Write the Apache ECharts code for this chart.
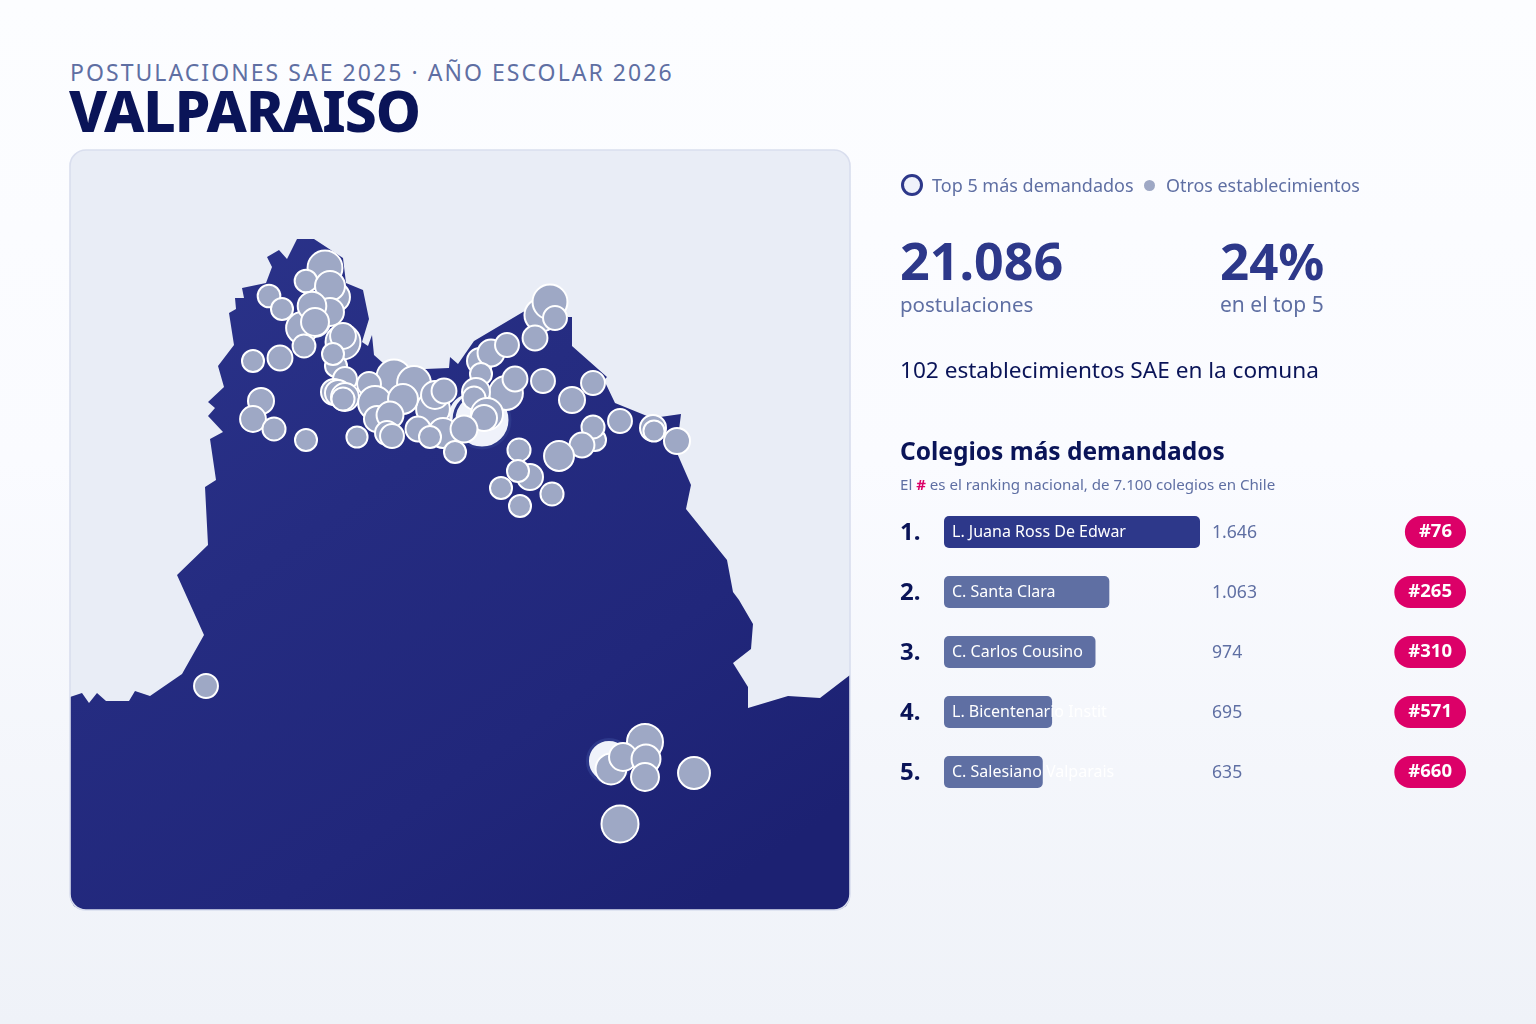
<!DOCTYPE html>
<html lang="es">
<head>
<meta charset="utf-8">
<title>Valparaiso</title>
<style>
html,body{margin:0;padding:0;width:1536px;height:1024px;overflow:hidden;background:linear-gradient(180deg,#fcfdff 0%,#fafbff 45%,#eff2f8 100%);font-family:"Noto Sans",sans-serif}
#chart{position:absolute;left:0;top:0;width:1536px;height:1024px}
#kicker{position:absolute;left:70px;top:56.5px;font-size:23px;line-height:30px;letter-spacing:2.05px;color:#5f6fa3;white-space:nowrap}
#place{position:absolute;left:69px;top:72px;font-size:57px;line-height:76px;font-weight:800;letter-spacing:-1px;color:#0a1458;white-space:nowrap}
</style>
<script src="https://cdn.jsdelivr.net/npm/echarts@6/dist/echarts.min.js"></script>
</head>
<body>
<div id="kicker">POSTULACIONES SAE 2025 · AÑO ESCOLAR 2026</div>
<div id="place">VALPARAISO</div>
<div id="chart"></div>
<script>
// ---- data ----
const schoolNames = ['L. Juana Ross De Edwar', 'C. Santa Clara', 'C. Carlos Cousino', 'L. Bicentenario Instit', 'C. Salesiano Valparais'];
const schoolApplications = [1646, 1063, 974, 695, 635];
const rankLabels = ['1.', '2.', '3.', '4.', '5.'];
const applicationLabels = ['1.646', '1.063', '974', '695', '635'];
const nationalRanks = ['#76', '#265', '#310', '#571', '#660'];

// commune outline in map units
const communeOutline = [
  [297,239],[314,239],[343,258],[346,283],[363,290],[369,319],[362,342],[368,346],[372,335],[374,355],[383,363],
  [395,370],[425,369],[449,368],[450,357],[458,364],[474,341],[523,312],[545,300],[568,317],[572,317],[572,346],
  [607,377],[604,380],[615,403],[647,416],[660,417],[681,414],[679,430],[677,453],[691,485],[686,509],[727,560],
  [733,592],[739,600],[753,624],[751,649],[733,663],[748,687],[748,708],[788,696],[820,698],[850,675],
  [850,895],[849,901],[846,906],[841,909],[835,910],[85,910],[79,909],[74,906],[71,901],[70,895],
  [70,697],[82,693],[89,703],[97,693],[106,701],[129,701],[135,691],[150,696],[182,674],[204,635],[177,575],
  [208,545],[205,487],[216,480],[210,439],[223,432],[208,416],[215,408],[208,402],[224,387],[218,366],[234,345],
  [229,313],[236,309],[235,298],[244,298],[242,288],[266,283],[272,267],[267,257],[279,250],[287,259]
];

// [map x, map y, applications]
const topSchools = [
  [470,415,1063],[482,420,1646],[609,761,974],[388,396,695],[315,322,635]
];
const otherSchools = [
  [325,268,640],[335,297,470],[306,281,270],[330,286,470],[269,296,270],[282,309,255],[330,312,410],[302,328,530],
  [312,306,430],[315,322,410],[343,342,640],[343,336,350],[304,346,275],[336,366,255],[333,354,255],[345,379,300],[253,361,255],
  [280,358,325],[261,401,355],[253,419,350],[274,429,280],[306,440,255],[357,437,235],[394,377,640],[414,383,600],
  [334,392,355],[338,393,355],[345,397,410],[343,399,280],[369,384,300],[375,403,600],[377,419,355],[433,409,600],
  [403,399,470],[390,415,380],[387,433,300],[392,436,300],[443,433,470],[418,429,325],[430,437,255],[435,395,410],
  [444,391,325],[455,452,255],[541,315,575],[550,302,640],[555,318,300],[535,338,325],[480,361,355],[491,353,380],[507,345,300],
  [481,374,255],[506,393,600],[476,392,410],[474,398,280],[487,414,540],[484,418,355],[515,379,325],[543,381,300],
  [464,429,380],[593,383,300],[572,400,355],[595,440,255],[593,427,280],[582,445,325],[559,456,470],[620,421,300],
  [653,428,355],[654,431,235],[677,441,355],[519,450,280],[530,477,355],[518,471,255],[501,488,255],[552,494,280],
  [520,506,255],[206,686,300],[645,742,680],[611,769,500],[623,757,410],[646,759,440],[645,777,410],[694,773,535],
  [620,824,720]
];

const textBlue = '#5f6fa3', navy = '#0a1458', strong = '#2d388a', pink = '#dc0068';
const FONT = '"Noto Sans", sans-serif';
const bubbleSize = d => 2 * 0.69 * Math.sqrt(d[2]);

const txt = (text, x, y, size, weight, fill) => ({
  type: 'text', z: 20,
  style: { text, x, y, fill, font: `${weight} ${size}px ${FONT}`, verticalAlign: 'middle', align: 'left' }
});

const chart = echarts.init(document.getElementById('chart'), null, { width: 1536, height: 1024, renderer: 'canvas' });

chart.setOption({
  backgroundColor: 'transparent',
  animation: false,
  legend: [
    { data: ['Top 5 más demandados'], left: 901, top: 174, itemWidth: 19, itemHeight: 19, itemGap: 0, padding: 0,
      itemStyle: { borderWidth: 3, borderColor: strong, color: '#eff2fa' }, formatter: () => '', selectedMode: false },
    { data: ['Otros establecimientos'], left: 1144, top: 176, itemWidth: 11, itemHeight: 19, itemGap: 0, padding: 0,
      itemStyle: { borderWidth: 0 }, formatter: () => '', selectedMode: false }
  ],
  grid: [
    { left: 70, top: 150, width: 780, height: 760 },
    { left: 944, top: 502, width: 256, height: 300 },
    { left: 944, top: 503, width: 256, height: 300 }
  ],
  xAxis: [
    { type: 'value', gridIndex: 0, min: 70, max: 850, show: false },
    { type: 'value', gridIndex: 1, min: 0, max: 1646, show: false },
    { type: 'value', gridIndex: 2, min: 0, max: 1646, show: false }
  ],
  yAxis: [
    { type: 'value', gridIndex: 0, min: 150, max: 910, inverse: true, show: false },
    { type: 'category', gridIndex: 1, inverse: true, data: schoolNames, show: false },
    { type: 'category', gridIndex: 2, inverse: true, data: rankLabels,
      axisLine: { show: false }, axisTick: { show: false },
      axisLabel: { interval: 0, align: 'left', margin: 44, fontFamily: FONT, fontSize: 24, fontWeight: 700, color: navy } },
    { type: 'category', gridIndex: 2, inverse: true, position: 'right', data: applicationLabels,
      axisLine: { show: false }, axisTick: { show: false },
      axisLabel: { interval: 0, align: 'left', margin: 12, fontFamily: FONT, fontSize: 17.6, color: textBlue } },
    { type: 'category', gridIndex: 1, inverse: true, position: 'right', data: nationalRanks,
      axisLine: { show: false }, axisTick: { show: false },
      axisLabel: { interval: 0, align: 'right', margin: 266, fontFamily: FONT, fontSize: 18.5, fontWeight: 700, color: '#fff',
        backgroundColor: pink, borderRadius: 16, padding: [8, 14, 4, 14], lineHeight: 20 } }
  ],
  series: [
    {
      type: 'custom', name: 'Comuna', xAxisIndex: 0, yAxisIndex: 0, coordinateSystem: 'cartesian2d', silent: true, z: 1, clip: false,
      data: communeOutline,
      renderItem: (params, api) => {
        if (params.dataIndexInside !== 0) return null;
        return {
          type: 'polygon',
          shape: { points: communeOutline.map(p => api.coord(p)) },
          style: { fill: new echarts.graphic.LinearGradient(0.2, 0, 0.8, 1, [
            { offset: 0, color: '#2a3289' }, { offset: 0.35, color: '#252c81' }, { offset: 0.7, color: '#21277b' }, { offset: 1, color: '#1c2172' }
          ]) }
        };
      }
    },
    {
      type: 'scatter', name: 'Top 5 más demandados', xAxisIndex: 0, yAxisIndex: 0, z: 2, clip: false,
      data: topSchools, symbol: 'circle', symbolSize: bubbleSize,
      itemStyle: { color: '#eff2fa', borderColor: strong, borderWidth: 3, opacity: 1 }
    },
    {
      type: 'scatter', name: 'Otros establecimientos', xAxisIndex: 0, yAxisIndex: 0, z: 3, clip: false,
      data: otherSchools, symbol: 'circle', symbolSize: bubbleSize,
      itemStyle: { color: '#9ea8c5', borderColor: '#ffffff', borderWidth: 2, opacity: 1 }
    },
    {
      type: 'bar', name: 'Postulaciones', xAxisIndex: 1, yAxisIndex: 1, barWidth: 32, silent: true, z: 4,
      data: schoolApplications.map((v, i) => ({ value: v, itemStyle: { color: i === 0 ? strong : textBlue } })),
      itemStyle: { borderRadius: 5 },
      label: { show: true, position: 'insideLeft', distance: 8, offset: [0, 1], color: '#fff', fontFamily: FONT, fontSize: 16,
        formatter: p => schoolNames[p.dataIndex] },
      labelLayout: { hideOverlap: false }
    }
  ],
  graphic: [
    { type: 'rect', z: -1, zlevel: 0, shape: { x: 70, y: 150, width: 780, height: 760, r: 16 }, style: { fill: '#e9edf6' }, silent: true },
    { type: 'rect', z: 10, shape: { x: 70, y: 150, width: 780, height: 760, r: 16 }, style: { fill: 'none', stroke: '#d9deee', lineWidth: 1.6 }, silent: true },
    txt('Top 5 más demandados', 932, 186.5, 18, 400, textBlue),
    txt('Otros establecimientos', 1166, 186.5, 17.9, 400, textBlue),
    txt('21.086', 900, 265, 52, 700, strong),
    txt('24%', 1220, 265, 51, 700, strong),
    txt('postulaciones', 900, 306.5, 20.5, 400, textBlue),
    txt('en el top 5', 1220, 306.5, 21, 400, textBlue),
    txt('102 establecimientos SAE en la comuna', 900, 372, 22.6, 400, navy),
    txt('Colegios más demandados', 900, 453, 24.5, 700, navy),
    { type: 'text', z: 20, style: {
        x: 900, y: 486, verticalAlign: 'middle', align: 'left', text: 'El {h|#} es el ranking nacional, de 7.100 colegios en Chile',
        font: `400 15.1px ${FONT}`, fill: textBlue,
        rich: { h: { fontFamily: FONT, fontSize: 15, fontWeight: 700, fill: pink, color: pink } }
    } }
  ]
});
</script>
</body>
</html>
